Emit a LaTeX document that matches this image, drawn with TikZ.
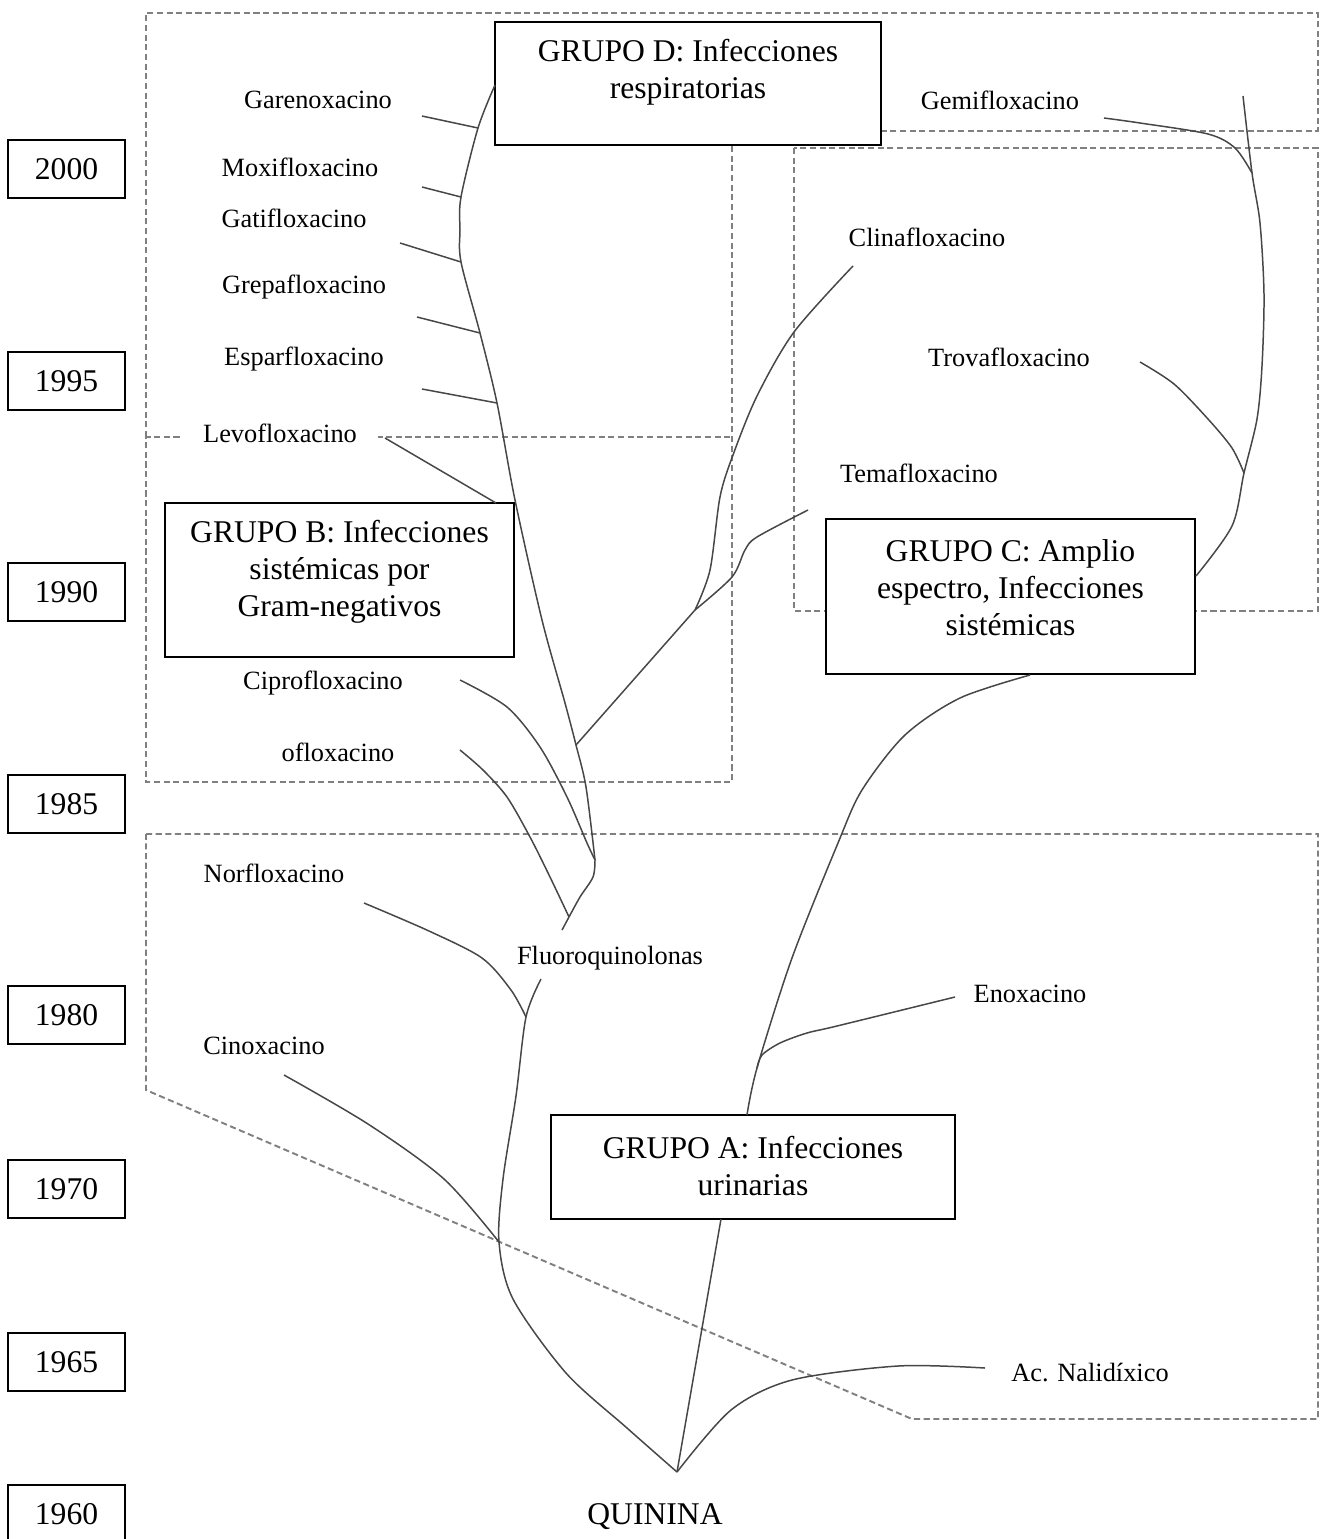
\documentclass[tikz,border=0pt]{standalone}
\usepackage{fontspec}
\setmainfont{Liberation Serif}
\usetikzlibrary{backgrounds,positioning}

\newdimen\pxu \pxu=0.02cm

\begin{document}
\begin{tikzpicture}[x=0.02cm, y=-0.02cm,
    rama/.style={draw=black!72, line width=0.85pt},
    zona/.style={draw=black!50, line width=1.1pt, dash pattern=on 3.5pt off 2pt},
    anio/.style={draw, line width=1.1pt, minimum width=117\pxu, minimum height=58\pxu,
                 inner sep=0pt, font=\fontsize{18}{21}\selectfont},
    grupo/.style={draw, fill=white, line width=1.1pt, inner sep=0pt},
    titulo/.style={align=center, font=\fontsize{18}{21}\selectfont},
    farmaco/.style={fill=white, inner sep=2pt, font=\fontsize{15}{17}\selectfont}]
    \useasboundingbox (0,0) rectangle (1326,1539);

    % escala de tiempo
    \foreach \a/\y in {2000/169, 1995/381, 1990/592, 1985/804, 1980/1015,
                       1970/1189, 1965/1362, 1960/1514}
        \node[anio] (a\a) at (66.5,\y) {\a};

    % grupos
    \node[grupo, minimum width=386\pxu, minimum height=123\pxu] (grupoD) at (688,83.5) {};
    \node[titulo] (tituloD) at (688,72) {GRUPO D: Infecciones\\respiratorias};
    \node[grupo, minimum width=349\pxu, minimum height=154\pxu] (grupoB) at (339.5,580) {};
    \node[titulo] (tituloB) at (339.5,572) {GRUPO B: Infecciones\\sistémicas por\\Gram-negativos};
    \node[grupo, minimum width=369\pxu, minimum height=155\pxu] (grupoC) at (1010.5,596.5) {};
    \node[titulo] (tituloC) at (1010.5,588) {GRUPO C: Amplio\\espectro, Infecciones\\sistémicas};
    \node[grupo, minimum width=404\pxu, minimum height=104\pxu] (grupoA) at (753,1167) {};
    \node[titulo] (tituloA) at (753,1166) {GRUPO A: Infecciones\\urinarias};

    % farmacos
    \node[farmaco] (garen) at (318,100) {Garenoxacino};
    \node[farmaco] (moxi)  at (300,167) {Moxifloxacino};
    \node[farmaco] (gati)  at (294,218) {Gatifloxacino};
    \node[farmaco] (grep)  at (304,287) {Grepafloxacino};
    \node[farmaco] (espar) at (304,359) {Esparfloxacino};
    \node[farmaco, inner xsep=12pt] (levo) at (280,433) {Levofloxacino};
    \node[farmaco] (cipro) at (323,683) {Ciprofloxacino};
    \node[farmaco] (oflo)  at (338,752) {ofloxacino};
    \node[farmaco] (nor)   at (274,873) {Norfloxacino};
    \node[farmaco] (fluoro) at (610,958) {Fluoroquinolonas};
    \node[farmaco] (cino)  at (264,1046) {Cinoxacino};
    \node[farmaco] (eno)   at (1030,994) {Enoxacino};
    \node[farmaco] (nal)   at (1090,1373) {Ac. Nalidíxico};
    \node[farmaco] (gemi)  at (1000,100) {Gemifloxacino};
    \node[farmaco] (clina) at (927,237) {Clinafloxacino};
    \node[farmaco] (trova) at (1009,357) {Trovafloxacino};
    \node[farmaco] (tema)  at (919,473) {Temafloxacino};
    \node[titulo] (quinina) at (655,1517) {QUININA};

    % puntos de union de las ramas
    \coordinate (qp) at (677,1472);
    \coordinate (jCino) at (499,1242);
    \coordinate (jNor) at (526,1017);
    \coordinate (fFluoro) at (541,979);
    \coordinate (fFluoroB) at (562,930);
    \coordinate (j1) at (569,917);
    \coordinate (j2) at (595,860);
    \coordinate (jC) at (576,745);
    \coordinate (jT) at (695,610);
    \coordinate (jEsp) at (497,403);
    \coordinate (jGrep) at (480,333);
    \coordinate (jGati) at (461,262);
    \coordinate (jMoxi) at (461,197);
    \coordinate (jGaren) at (478,128);
    \coordinate (fD) at (495,85);
    \coordinate (pGaren) at (422,116);
    \coordinate (pMoxi) at (422,187);
    \coordinate (pGati) at (400,243);
    \coordinate (pGrep) at (417,317);
    \coordinate (pEsp) at (422,389);
    \coordinate (pLevo) at (385,438);
    \coordinate (fLevo) at (496,503);
    \coordinate (pCipro) at (460,680);
    \coordinate (pOflo) at (460,750);
    \coordinate (pNor) at (364,903);
    \coordinate (pCino) at (284,1075);
    \coordinate (pClina) at (853,266);
    \coordinate (pTema) at (808,510);
    \coordinate (fGemTop) at (1243,96);
    \coordinate (jGem) at (1252,173);
    \coordinate (pGemi) at (1104,118);
    \coordinate (pTrova) at (1140,362);
    \coordinate (jTrova) at (1244,473);
    \coordinate (fCe) at (1196,576);
    \coordinate (fCs) at (1030,675);
    \coordinate (jEno) at (757,1068);
    \coordinate (pEno) at (955,997);
    \coordinate (fAn) at (747,1115);
    \coordinate (fAs) at (721,1219);
    \coordinate (pNal) at (985,1368);

    % zonas de cada grupo
    \begin{scope}[on background layer]
        \draw[zona] (146,437) -- (146,13) -- (1318,13) -- (1318,131) -- (880,131);
        \draw[zona] (732,146) -- (732,782) -- (146,782) -- (146,437) -- (732,437);
        \draw[zona] (794,148) rectangle (1318,611);
        \draw[zona] (146,834) -- (1318,834) -- (1318,1419) -- (912,1419) -- (146,1090) -- cycle;
    \end{scope}

    % rama de la izquierda
    \draw[rama] plot[smooth] coordinates {(qp) (627,1428) (566,1373) (513,1299) (jCino)
        (503,1179) (516,1096) (jNor) (fFluoro)};
    \draw[rama] plot[smooth] coordinates {(pCino) (368,1124) (444,1179) (jCino)};
    \draw[rama] plot[smooth] coordinates {(pNor) (429,931) (482,958) (511,990) (jNor)};
    \draw[rama] (fFluoroB) -- (j1);
    \draw[rama] plot[smooth] coordinates {(pOflo) (483,770) (507,797) (530,837) (550,877) (j1)};
    \draw[rama] plot[smooth] coordinates {(j1) (580,897) (593,877) (j2)};
    \draw[rama] plot[smooth] coordinates {(pCipro) (507,707) (540,747) (567,797) (587,843) (j2)};
    \draw[rama] plot[smooth] coordinates {(j2) (586,787) (jC) (565,703) (542,620) (515,500)
        (jEsp) (jGrep) (jGati) (460,230) (jMoxi) (jGaren) (fD)};
    \foreach \f in {Garen,Moxi,Gati,Grep,Esp}
        \draw[rama] (p\f) -- (j\f);
    \draw[rama] (pLevo) -- (fLevo);
    \draw[rama] (jC) -- (jT);
    \draw[rama] plot[smooth] coordinates {(jT) (710,570) (720,497) (733,455) (757,396)
        (794,332) (pClina)};
    \draw[rama] plot[smooth] coordinates {(jT) (732,577) (745,550) (757,537) (pTema)};

    % rama de la derecha
    \draw[rama] plot[smooth] coordinates {(fGemTop) (jGem) (1260,223) (1264,294) (1262,366)
        (1257,419) (jTrova) (1232,526) (fCe)};
    \draw[rama] plot[smooth] coordinates {(pGemi) (1140,123) (1208,134) (1235,148) (jGem)};
    \draw[rama] plot[smooth] coordinates {(pTrova) (1174,384) (1208,419) (1232,448) (jTrova)};
    \draw[rama] plot[smooth] coordinates {(fCs) (960,698) (905,735) (862,790) (838,843)
        (792,958) (jEno) (fAn)};
    \draw[rama] plot[smooth] coordinates {(jEno) (762,1055) (780,1043) (807,1033) (837,1026) (pEno)};
    \draw[rama] (fAs) -- (qp);
    \draw[rama] plot[smooth] coordinates {(qp) (731,1410) (792,1380) (898,1366) (pNal)};
\end{tikzpicture}
\end{document}
